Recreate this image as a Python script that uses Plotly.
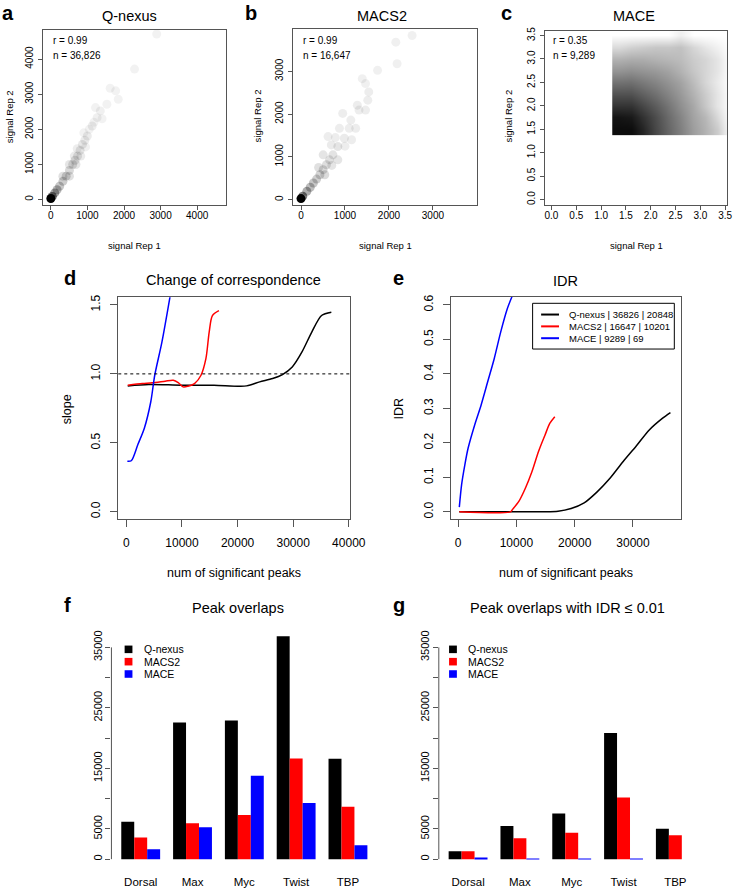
import plotly.graph_objects as go

W, H = 747, 888
FONT = "Liberation Sans, Arial, sans-serif"

# ---- a: Q-nexus replicates (smoothScatter look)
qnexus_rep1 = [0, 40, 107, 170, 240, 330, 419, 508, 597, 660, 730, 800, 864, 930, 997,
               1131, 1264, 1353, 1220, 1532, 1621, 1772, 1843, 2288, 2894,
               329, 508, 508, 686, 641, 819, 720, 950, 1050, 1180, 900, 1400]
qnexus_rep2 = [29, 90, 190, 280, 381, 520, 667, 830, 1000, 1120, 1238, 1400, 1571, 1690, 1810,
               2095, 2333, 2524, 2619, 2714, 3171, 3095, 2857, 3714, 4714,
               667, 667, 1000, 1000, 1238, 1238, 1450, 1500, 2000, 2200, 1900, 2300]
qnexus_density = [1.0, 0.55, 0.35, 0.28, 0.22, 0.2, 0.17, 0.15, 0.13, 0.12, 0.11, 0.1, 0.09, 0.08, 0.08,
                  0.07, 0.06, 0.06, 0.05, 0.05, 0.05, 0.05, 0.05, 0.05, 0.05,
                  0.12, 0.12, 0.1, 0.1, 0.08, 0.08, 0.07, 0.06, 0.05, 0.05, 0.05, 0.05]

# ---- b: MACS2 replicates
macs2_rep1 = [0, 40, 133, 210, 281, 355, 430, 504, 578, 650, 726, 837, 985, 1096, 1244, 874,
              615, 948, 1133, 1281, 1319, 1467, 1519, 1541, 1467, 1393, 1741, 2185, 2156, 2526,
              837, 541, 689, 504, 400, 700, 1000, 780, 1150]
macs2_rep2 = [23, 80, 194, 290, 388, 480, 581, 700, 814, 930, 1047, 1240, 1434, 1667, 1667, 1667,
              1473, 2016, 1860, 2209, 2093, 2093, 2326, 2519, 2713, 2829, 3023, 3178, 3682, 3837,
              930, 581, 1279, 1047, 750, 800, 1250, 1450, 1400]
macs2_density = [1.0, 0.5, 0.32, 0.26, 0.22, 0.19, 0.17, 0.15, 0.13, 0.12, 0.11, 0.1, 0.08, 0.07, 0.07, 0.07,
                 0.07, 0.07, 0.07, 0.07, 0.07, 0.07, 0.07, 0.07, 0.06, 0.06, 0.06, 0.06, 0.06, 0.06,
                 0.1, 0.14, 0.08, 0.1, 0.12, 0.1, 0.07, 0.07, 0.07]

# ---- c: MACE replicates, smoothed density grid
mace_grid_x = [1.35, 1.6, 1.85, 2.1, 2.35, 2.6, 2.85, 3.1, 3.35, 3.6]
mace_grid_y = [1.5, 1.75, 2.0, 2.25, 2.5, 2.75, 3.0, 3.25, 3.5]
mace_density = [
    [0.95, 0.95, 0.85, 0.72, 0.6, 0.5, 0.38, 0.3, 0.2, 0.0],
    [0.92, 0.9, 0.8, 0.7, 0.58, 0.48, 0.36, 0.28, 0.15, 0.0],
    [0.8, 0.8, 0.72, 0.64, 0.54, 0.44, 0.34, 0.22, 0.1, 0.0],
    [0.68, 0.68, 0.62, 0.56, 0.48, 0.4, 0.3, 0.2, 0.1, 0.0],
    [0.55, 0.56, 0.52, 0.48, 0.42, 0.36, 0.26, 0.16, 0.08, 0.0],
    [0.42, 0.44, 0.42, 0.4, 0.36, 0.3, 0.22, 0.16, 0.1, 0.0],
    [0.3, 0.32, 0.32, 0.3, 0.28, 0.26, 0.2, 0.16, 0.1, 0.0],
    [0.14, 0.18, 0.2, 0.22, 0.22, 0.24, 0.16, 0.1, 0.05, 0.0],
    [0.0, 0.0, 0.0, 0.0, 0.0, 0.06, 0.0, 0.0, 0.0, 0.0],
]

# ---- d: change of correspondence (slope)
slope_qnexus_x = [240, 4040, 9900, 15760, 21620, 23970, 26310, 28070, 29830, 31580, 33340, 35100, 36860]
slope_qnexus_y = [0.913, 0.923, 0.918, 0.918, 0.913, 0.942, 0.966, 0.995, 1.05, 1.159, 1.303, 1.423, 1.447]
slope_macs2_x = [240, 2870, 4630, 6970, 8440, 9320, 10200, 11080, 12250, 13420, 14300, 14890, 15470, 16640]
slope_macs2_y = [0.918, 0.930, 0.935, 0.947, 0.954, 0.937, 0.906, 0.911, 0.930, 0.99, 1.11, 1.303, 1.423, 1.459]
slope_mace_x = [176, 880, 2050, 3230, 4390, 5100, 6390, 7850]
slope_mace_y = [0.366, 0.37, 0.486, 0.606, 0.798, 0.99, 1.23, 1.56]
slope_reference = 1.0

# ---- e: IDR
idr_qnexus_x = [200, 9000, 17150, 19390, 21620, 23850, 26090, 28320, 30560, 32790, 35030, 36420]
idr_qnexus_y = [0.0, 0.0, 0.002, 0.0096, 0.026, 0.058, 0.098, 0.146, 0.191, 0.2375, 0.271, 0.288]
idr_macs2_x = [218, 8990, 9330, 10450, 11560, 12680, 13800, 14920, 15750, 16590]
idr_macs2_y = [0.0, 0.0, 0.0067, 0.031, 0.069, 0.117, 0.175, 0.223, 0.257, 0.276]
idr_mace_x = [218, 610, 1170, 1730, 2850, 3960, 5080, 6200, 7310, 8430, 9270]
idr_mace_y = [0.0135, 0.079, 0.137, 0.185, 0.252, 0.31, 0.377, 0.444, 0.521, 0.588, 0.625]
idr_legend = ["Q-nexus | 36826 | 20848", "MACS2 | 16647 | 10201", "MACE | 9289 | 69"]

# ---- f, g: peak overlaps
factors = ["Dorsal", "Max", "Myc", "Twist", "TBP"]
methods = ["Q-nexus", "MACS2", "MACE"]
method_colors = ["black", "red", "blue"]
overlap_qnexus = [6200, 22600, 22900, 36826, 16600]
overlap_macs2 = [3560, 5920, 7280, 16647, 8660]
overlap_mace = [1640, 5260, 13800, 9289, 2300]
idr_overlap_qnexus = [1310, 5470, 7560, 20848, 5040]
idr_overlap_macs2 = [1310, 3450, 4380, 10201, 3940]
idr_overlap_mace = [180, 50, 40, 69, 0]
count_ticks = [0, 5000, 10000, 15000, 20000, 25000, 30000, 35000]
count_labels = ["0", "5000", "", "15000", "", "25000", "", "35000"]


def px_x(l, r):
    return [l / W, r / W]


def px_y(t, b):
    return [1 - b / H, 1 - t / H]


fig = go.Figure()

grey_scale = [[0, "rgba(0,0,0,0)"], [1, "rgba(0,0,0,1)"]]
for xa, ya, xs, ys, dens in [("x", "y", qnexus_rep1, qnexus_rep2, qnexus_density),
                             ("x2", "y2", macs2_rep1, macs2_rep2, macs2_density)]:
    fig.add_trace(go.Scatter(x=xs, y=ys, mode="markers", xaxis=xa, yaxis=ya,
                             marker=dict(size=9, color=dens, colorscale=grey_scale,
                                         cmin=0, cmax=1, line_width=0)))

fig.add_trace(go.Heatmap(x=mace_grid_x, y=mace_grid_y, z=mace_density, xaxis="x3", yaxis="y3",
                         zsmooth="best", zmin=0, zmax=1, showscale=False,
                         colorscale=[[0, "white"], [1, "black"]]))

for xs, ys, col in [(slope_qnexus_x, slope_qnexus_y, "black"),
                    (slope_macs2_x, slope_macs2_y, "red"),
                    (slope_mace_x, slope_mace_y, "blue")]:
    fig.add_trace(go.Scatter(x=xs, y=ys, mode="lines", xaxis="x4", yaxis="y4",
                             line=dict(color=col, width=1.5, shape="spline", smoothing=0.8)))

for xs, ys, col in [(idr_qnexus_x, idr_qnexus_y, "black"),
                    (idr_macs2_x, idr_macs2_y, "red"),
                    (idr_mace_x, idr_mace_y, "blue")]:
    fig.add_trace(go.Scatter(x=xs, y=ys, mode="lines", xaxis="x5", yaxis="y5",
                             line=dict(color=col, width=1.5, shape="spline", smoothing=0.8)))

for xa, ya, series in [("x6", "y6", [overlap_qnexus, overlap_macs2, overlap_mace]),
                       ("x7", "y7", [idr_overlap_qnexus, idr_overlap_macs2, idr_overlap_mace])]:
    for name, col, vals in zip(methods, method_colors, series):
        fig.add_trace(go.Bar(x=factors, y=vals, name=name, marker_color=col,
                             marker_line_width=0, xaxis=xa, yaxis=ya))

box = dict(showline=True, mirror=True, linecolor="#555", linewidth=1, ticks="outside",
           tickcolor="#555", showgrid=False, zeroline=False, tickfont=dict(size=10))

layout = dict(
    width=W, height=H, margin=dict(l=0, r=0, t=0, b=0),
    paper_bgcolor="white", plot_bgcolor="white", showlegend=False,
    font=dict(family=FONT, color="black"),
    barmode="group", bargap=0.25, bargroupgap=0,
    # a
    xaxis=dict(box, domain=px_x(43.3, 230), range=[-206, 4782], tickvals=[0, 1000, 2000, 3000, 4000],
               ticklen=4, ticklabelstandoff=-3, anchor="y"),
    yaxis=dict(box, domain=px_y(26, 201.7), range=[-142, 4832], tickvals=[0, 1000, 2000, 3000, 4000],
               ticklen=4, tickangle=-90, ticklabelstandoff=1, anchor="x"),
    # b
    xaxis2=dict(box, domain=px_x(299.3, 487.3), range=[-171, 4007], tickvals=[0, 1000, 2000, 3000],
                ticklen=4, ticklabelstandoff=-3, anchor="y2"),
    yaxis2=dict(box, domain=px_y(25, 201.7), range=[-116, 3993], tickvals=[0, 1000, 2000, 3000],
                ticklen=4, tickangle=-90, ticklabelstandoff=1, anchor="x2"),
    # c
    xaxis3=dict(box, domain=px_x(557, 743.3), range=[-0.124, 3.545], dtick=0.5, tick0=0,
                tickformat=".1f", ticklen=4, ticklabelstandoff=-3, anchor="y3"),
    yaxis3=dict(box, domain=px_y(27.3, 201.7), range=[-0.106, 3.594], dtick=0.5, tick0=0,
                tickformat=".1f", ticklen=4, tickangle=-90, ticklabelstandoff=1, anchor="x3"),
    # d
    xaxis4=dict(box, domain=px_x(120, 356.7), range=[-1459, 40140], dtick=10000, tick0=0,
                tickformat="d", ticklen=7, tickfont=dict(size=12), ticklabelstandoff=5, anchor="y4"),
    yaxis4=dict(box, domain=px_y(295, 518.3), range=[-0.055, 1.555], dtick=0.5, tick0=0,
                tickformat=".1f", ticklen=7, tickfont=dict(size=12), tickangle=-90,
                ticklabelstandoff=5, anchor="x4"),
    # e
    xaxis5=dict(box, domain=px_x(460, 696), range=[-1290, 38260], dtick=10000, tick0=0,
                tickformat="d", ticklen=7, tickfont=dict(size=12), ticklabelstandoff=5, anchor="y5"),
    yaxis5=dict(box, domain=px_y(294.3, 518.3), range=[-0.0219, 0.624], dtick=0.1, tick0=0,
                tickformat=".1f", ticklen=7, tickfont=dict(size=12), tickangle=-90,
                ticklabelstandoff=5, anchor="x5"),
)

for i, (l, r) in zip((6, 7), [(113, 385), (448, 720)]):
    layout[f"xaxis{i}"] = dict(domain=px_x(l, r), range=[-0.565, 4.565], showline=False,
                               ticks="", ticklen=0, showgrid=False, zeroline=False,
                               tickfont=dict(size=11.5), ticklabelstandoff=5, anchor=f"y{i}")
    layout[f"yaxis{i}"] = dict(domain=px_y(627, 869), range=[-1479, 38290], tickvals=count_ticks,
                               ticktext=count_labels, ticks="outside", ticklen=5, tickcolor="#555",
                               showline=False, showgrid=False, zeroline=False, tickangle=-90,
                               tickfont=dict(size=11), ticklabelstandoff=-1, anchor=f"x{i}")

fig.update_layout(**layout)

shapes = []
annotations = []


def text(x, y, s, size, bold=False, angle=0, xanchor="center"):
    annotations.append(dict(x=x / W, y=1 - y / H, xref="paper", yref="paper", text=f"<b>{s}</b>" if bold else s,
                            showarrow=False, font=dict(size=size, family=FONT, color="black"),
                            textangle=angle, xanchor=xanchor, yanchor="middle"))


# panel letters
for s, x, y in [("a", 7, 9), ("b", 256, 9), ("c", 517, 9), ("d", 71, 276), ("e", 407, 276),
                ("f", 68, 604), ("g", 407, 604)]:
    text(x, y, s, 20, bold=True)

# titles
for s, x, y in [("Q-nexus", 132, 12), ("MACS2", 390, 12), ("MACE", 648, 12),
                ("Change of correspondence", 238, 278), ("IDR", 578, 279),
                ("Peak overlaps", 243, 607), ("Peak overlaps with IDR ≤ 0.01", 580, 607)]:
    text(x, y, s, 14.5)

# axis labels
for x in (137, 393, 650):
    text(x, 243, "signal Rep 1", 9.5)
for x in (9, 262, 519):
    text(x, 113, "signal Rep 2", 9.5, angle=-90)
for x in (238, 578):
    text(x, 572, "num of significant peaks", 12.5)
text(67, 407, "slope", 12.5, angle=-90)
text(407, 407, "IDR", 12.5, angle=-90)

# correlation notes
for x, r, n in [(50.7, "0.99", "36,826"), (307.3, "0.99", "16,647"), (563.3, "0.35", "9,289")]:
    text(x, 37, f"r = {r}", 10, xanchor="left")
    text(x, 51.5, f"n = {n}", 10, xanchor="left")

# reference line in d
shapes.append(dict(type="line", xref="x4 domain", yref="y4", x0=0, x1=1, y0=slope_reference,
                   y1=slope_reference, line=dict(color="black", width=1, dash="dot")))

# IDR legend (e)
shapes.append(dict(type="rect", xref="paper", yref="paper", x0=544 / W, x1=689 / W,
                   y0=1 - 347 / H, y1=1 - 301 / H, line=dict(color="black", width=1)))
for k, (lab, col) in enumerate(zip(idr_legend, method_colors)):
    yy = 312.3 + 11.9 * k
    shapes.append(dict(type="line", xref="paper", yref="paper", x0=552.7 / W, x1=571 / W,
                       y0=1 - yy / H, y1=1 - yy / H, line=dict(color=col, width=2)))
    text(579, yy, lab, 9.5, xanchor="left")

# bar legends (f, g)
for sx in (130.5, 462.5):
    for k, (m, col) in enumerate(zip(methods, method_colors)):
        yy = 649 + 12.4 * k
        shapes.append(dict(type="rect", xref="paper", yref="paper", x0=(sx - 4) / W, x1=(sx + 4) / W,
                           y0=1 - (yy + 3.8) / H, y1=1 - (yy - 3.8) / H, fillcolor=col, line_width=0))
        text(sx + 13.5, yy, m, 10.5, xanchor="left")

# y-axis lines of the barplots only span the ticks
for i in (6, 7):
    shapes.append(dict(type="line", xref=f"x{i} domain", yref=f"y{i}", x0=0, x1=0,
                       y0=count_ticks[0], y1=count_ticks[-1], line=dict(color="#555", width=1)))

fig.update_layout(shapes=shapes, annotations=annotations)
# the page's default 8px body margin would shift the whole figure
fig.write_html("out.html", config={"displayModeBar": False},
               post_script="document.body.style.margin = '0';")
